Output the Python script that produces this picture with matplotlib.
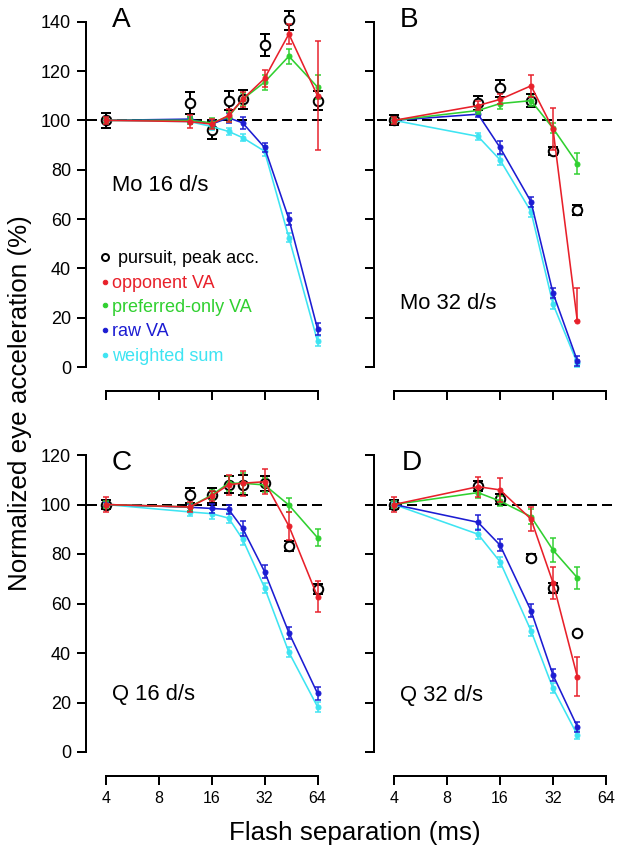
import matplotlib
matplotlib.use('Agg')
import matplotlib.pyplot as plt
from matplotlib.ticker import NullLocator

plt.rcParams['font.family'] = ['Liberation Sans', 'DejaVu Sans']

W, H, DPI = 618, 852, 72

# ---------------- data ----------------
x_long = [4, 12, 16, 20, 24, 32, 44, 64]    # panels A and C
x_short = [4, 12, 16, 24, 32, 44]           # panels B and D
xtick_vals = [4, 8, 16, 32, 64]
xtick_labels = ['4', '8', '16', '32', '64']

# Panel A: Mo 16 d/s
A_pursuit = [100, 107, 96, 108, 108.5, 130.5, 140.5, 108]
A_pursuit_err = [3, 4.5, 3.5, 4, 4, 4.5, 4, 4]
A_opp = [100, 99.5, 98.5, 102, 108.5, 117, 135, 110]
A_opp_err = [1.5, 2.5, 2, 2.5, 3, 3.5, 4, 22]
A_pref = [100, 100, 99, 101.5, 108.5, 115.5, 126, 113.5]
A_pref_err = [1, 1.5, 2, 2, 2.5, 3, 3, 5]
A_raw = [100, 100.5, 98.5, 101, 99, 89, 60, 15.5]
A_raw_err = [1, 1, 1.5, 2, 2.5, 2, 2.5, 2.5]
A_wsum = [100, 99.5, 97.5, 95.5, 93, 87.5, 52.5, 10.5]
A_wsum_err = [1, 1, 1.5, 1.5, 1.5, 2, 2, 2]

# Panel B: Mo 32 d/s
B_pursuit = [100, 107, 113, 108, 87.5, 63.5]
B_pursuit_err = [2, 2.7, 3.4, 2.7, 1.5, 2]
B_opp = [100, 106, 108.5, 114, 96.5, 18.5]
B_opp_err_lo = [1.5, 2, 2, 4.5, 8.5, 0]
B_opp_err_hi = [1.5, 2, 2, 4.5, 8.5, 13.5]
B_pref = [100, 104, 106.8, 108, 96.8, 82.5]
B_pref_err = [1, 1.5, 2, 2, 2, 4.2]
B_raw = [100, 102.5, 89, 67, 30, 2.5]
B_raw_err = [1, 1, 2.5, 2, 2, 2]
B_wsum = [100, 93.5, 84, 63, 25.5, 1.5]
B_wsum_err = [1, 1.5, 2, 2, 2, 1.5]

# Panel C: Q 16 d/s
C_pursuit = [100, 103.8, 103.8, 108, 107.8, 108.6, 83.4, 66]
C_pursuit_err = [2, 3, 3, 3.5, 4, 3, 2, 2]
C_opp = [100, 99, 103.4, 108, 108.6, 109.2, 91.3, 62.8]
C_opp_err = [3, 2, 2, 4, 5, 5, 5.7, 6.3]
C_pref = [100, 99, 103.8, 108.6, 108.6, 107.9, 99.8, 86.6]
C_pref_err = [1.5, 1.5, 2, 3, 4, 3, 3, 3.5]
C_raw = [100, 98.9, 98.4, 98, 90.4, 72.9, 48.2, 23.7]
C_raw_err = [1, 1.5, 2, 2, 3, 2.5, 2.5, 2.5]
C_wsum = [100, 97, 96.3, 94.5, 86, 66.4, 40.3, 18.3]
C_wsum_err = [1, 1.5, 2, 2, 2.5, 2, 2, 2]

# Panel D: Q 32 d/s
D_pursuit = [100, 107.6, 102.2, 78.5, 66.1, 48.2]
D_pursuit_err = [2, 2, 2, 1.5, 2, 0.3]
D_opp = [100, 107.2, 105.9, 94.1, 68.4, 30.4]
D_opp_err = [3, 4, 5, 5, 6.5, 7.8]
D_pref = [100, 104.8, 101.4, 95.1, 81.6, 70.4]
D_pref_err = [1.5, 2, 2, 3, 5, 4.5]
D_raw = [100, 92.8, 83.6, 57.1, 31.1, 10.2]
D_raw_err = [1.5, 3, 2.5, 2.5, 2.5, 2]
D_wsum = [100, 88, 76.9, 49, 25.7, 6.9]
D_wsum_err = [1, 2, 2, 2, 2, 1.5]

series_names = ['pursuit, peak acc.', 'opponent VA', 'preferred-only VA', 'raw VA', 'weighted sum']
panel_letters = ['A', 'B', 'C', 'D']
panel_titles = ['Mo 16 d/s', 'Mo 32 d/s', 'Q 16 d/s', 'Q 32 d/s']
y_label = 'Normalized eye acceleration (%)'
x_label = 'Flash separation (ms)'

C_RED = '#e8202a'
C_GREEN = '#30d030'
C_BLUE = '#1c1cd2'
C_CYAN = '#3ee4f2'

# ---------------- figure ----------------
fig = plt.figure(figsize=(W / DPI, H / DPI), dpi=DPI)


def fx(px):
    return px / W


def fy(py):
    return 1 - py / H


def make_ax(x0, x1, y0, y1):
    return fig.add_axes([x0 / W, 1 - y1 / H, (x1 - x0) / W, (y1 - y0) / H])


LX0, LX1 = 105.7, 317.5
RX0, RX1 = 394.0, 606.0
TY0, TY1 = 21.7, 367.0
BY0, BY1 = 455.0, 752.0

axA = make_ax(LX0, LX1, TY0, TY1)
axB = make_ax(RX0, RX1, TY0, TY1)
axC = make_ax(LX0, LX1, BY0, BY1)
axD = make_ax(RX0, RX1, BY0, BY1)


def style(ax, ymax, ylab, xlab):
    ax.set_xscale('log', base=2)
    ax.set_xlim(4, 64)
    ax.set_ylim(0, ymax)
    ax.patch.set_alpha(0)
    for s in ['top', 'right']:
        ax.spines[s].set_visible(False)
    ax.spines['left'].set_position(('outward', 19.7))
    ax.spines['bottom'].set_position(('outward', 24))
    ax.spines['left'].set_bounds(0, ymax)
    ax.spines['bottom'].set_bounds(4, 64)
    ax.spines['left'].set_linewidth(2)
    ax.spines['bottom'].set_linewidth(2)
    ax.xaxis.set_minor_locator(NullLocator())
    ax.set_xticks(xtick_vals)
    ax.set_xticklabels(xtick_labels if xlab else [])
    ax.set_yticks(list(range(0, ymax + 1, 20)))
    if not ylab:
        ax.set_yticklabels([])
    ax.tick_params(axis='both', direction='out', length=9, width=2)
    ax.tick_params(axis='y', labelsize=18, pad=6)
    ax.tick_params(axis='x', labelsize=16, pad=6)


style(axA, 140, True, False)
style(axB, 140, False, False)
style(axC, 120, True, True)
style(axD, 120, False, True)


def dashed(ax, x0px, x1px, ax_x0, ax_x1):
    w = ax_x1 - ax_x0
    ax.axhline(100, xmin=(x0px - ax_x0) / w, xmax=(x1px - ax_x0) / w, color='black',
               lw=2, dashes=(5, 2.5), clip_on=False, zorder=1)


dashed(axA, 87, 323, LX0, LX1)
dashed(axB, 377, 613, RX0, RX1)
dashed(axC, 87, 323, LX0, LX1)
dashed(axD, 377, 613, RX0, RX1)


def pursuit(ax, x, y, err):
    ax.errorbar(x, y, yerr=err, fmt='none', ecolor='black', elinewidth=2,
                capsize=5, capthick=2, clip_on=False, zorder=2)
    ax.plot(x, y, 'o', ms=9.5, mfc='white', mec='black', mew=2, ls='none',
            clip_on=False, zorder=3)


def model(ax, x, y, err, color, z):
    ax.errorbar(x, y, yerr=err, color=color, lw=1.6, marker='o', ms=5,
                mec=color, mfc=color, elinewidth=1.5, capsize=3, capthick=1.5,
                clip_on=False, zorder=z)


def panel(ax, x, pur, pur_e, opp, opp_e, pref, pref_e, raw, raw_e, ws, ws_e):
    pursuit(ax, x, pur, pur_e)
    model(ax, x, ws, ws_e, C_CYAN, 4)
    model(ax, x, raw, raw_e, C_BLUE, 5)
    model(ax, x, pref, pref_e, C_GREEN, 6)
    model(ax, x, opp, opp_e, C_RED, 7)


panel(axA, x_long, A_pursuit, A_pursuit_err, A_opp, A_opp_err, A_pref, A_pref_err,
      A_raw, A_raw_err, A_wsum, A_wsum_err)
panel(axB, x_short, B_pursuit, B_pursuit_err, B_opp, [B_opp_err_lo, B_opp_err_hi],
      B_pref, B_pref_err, B_raw, B_raw_err, B_wsum, B_wsum_err)
panel(axC, x_long, C_pursuit, C_pursuit_err, C_opp, C_opp_err, C_pref, C_pref_err,
      C_raw, C_raw_err, C_wsum, C_wsum_err)
panel(axD, x_short, D_pursuit, D_pursuit_err, D_opp, D_opp_err, D_pref, D_pref_err,
      D_raw, D_raw_err, D_wsum, D_wsum_err)

# panel letters and titles
letter_pos = [(112, 27), (400, 27), (112, 470), (402, 470)]
title_pos = [(112, 191), (400, 309), (112, 700), (400, 701)]
for (lx, ly), letter in zip(letter_pos, panel_letters):
    fig.text(fx(lx), fy(ly), letter, fontsize=28, ha='left', va='baseline')
for (tx, ty), t in zip(title_pos, panel_titles):
    fig.text(fx(tx), fy(ty), t, fontsize=22, ha='left', va='baseline')

# legend (manual, inside panel A)
leg_colors = ['black', C_RED, C_GREEN, C_BLUE, C_CYAN]
leg_marker_y = [256.7, 281.7, 305, 330, 355]
leg_text_base = [263.3, 287.5, 311.7, 336, 361.5]
leg_text_x = [118, 112, 112, 112, 112]
for i, (name, col) in enumerate(zip(series_names, leg_colors)):
    if i == 0:
        fig.lines.append(plt.Line2D([fx(105)], [fy(leg_marker_y[i])], marker='o', ms=7,
                                    mfc='white', mec='black', mew=2, ls='none',
                                    transform=fig.transFigure))
    else:
        fig.lines.append(plt.Line2D([fx(105)], [fy(leg_marker_y[i])], marker='o', ms=4.5,
                                    mfc=col, mec=col, ls='none',
                                    transform=fig.transFigure))
    fig.text(fx(leg_text_x[i]), fy(leg_text_base[i]), name, color=col, fontsize=18,
             ha='left', va='baseline')

# axis labels
fig.text(fx(20), fy(403), y_label, rotation=90, fontsize=26, ha='center', va='center')
fig.text(fx(355), fy(840), x_label, fontsize=26, ha='center', va='baseline')

fig.savefig('out.png', dpi=DPI)
